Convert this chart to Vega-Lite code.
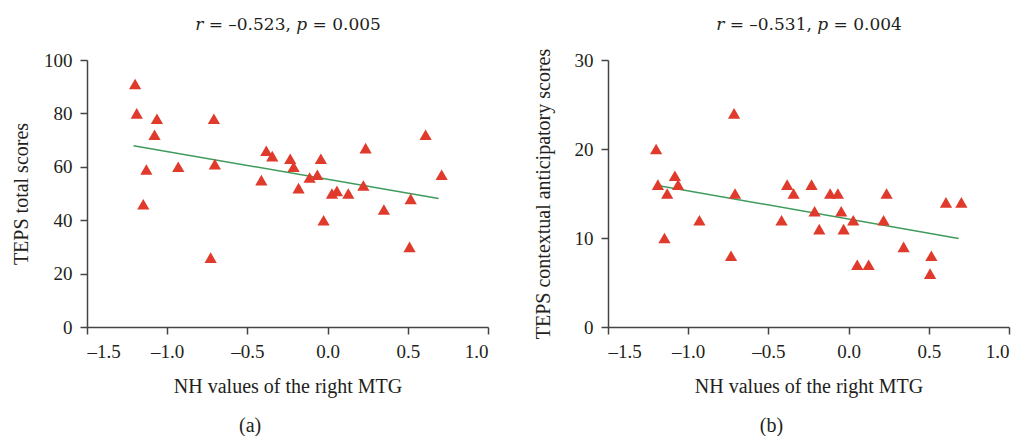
{
  "$schema": "https://vega.github.io/schema/vega-lite/v6.json",
  "padding": {"left": 11, "top": 15, "right": 5, "bottom": 0},
  "background": "white",
  "config": {
    "view": {"stroke": null},
    "font": "Liberation Serif",
    "axis": {"grid": false, "domainColor": "#444444", "domainWidth": 1.5, "tickColor": "#444444", "tickWidth": 1.5, "tickSize": 7, "labelFont": "Liberation Serif", "labelFontSize": 19, "labelColor": "#231f20", "titleFont": "Liberation Serif", "titleFontSize": 20, "titleFontWeight": "normal", "titleColor": "#231f20"},
    "title": {"font": "Liberation Serif", "fontSize": 20, "fontWeight": "normal", "color": "#231f20"},
    "concat": {"spacing": 43}
  },
  "datasets": {
    "a": [
      {"x": -1.20, "y": 91}, {"x": -1.19, "y": 80}, {"x": -1.064, "y": 78}, {"x": -1.079, "y": 72},
      {"x": -0.709, "y": 78}, {"x": -1.13, "y": 59}, {"x": -0.931, "y": 60}, {"x": -0.703, "y": 61},
      {"x": -1.149, "y": 46}, {"x": -0.729, "y": 26}, {"x": -0.382, "y": 66}, {"x": -0.345, "y": 64},
      {"x": -0.413, "y": 55}, {"x": -0.233, "y": 63}, {"x": -0.212, "y": 60}, {"x": -0.042, "y": 63},
      {"x": -0.112, "y": 56}, {"x": -0.064, "y": 57}, {"x": -0.181, "y": 52}, {"x": 0.237, "y": 67},
      {"x": 0.027, "y": 50}, {"x": 0.058, "y": 51}, {"x": 0.129, "y": 50}, {"x": 0.223, "y": 53},
      {"x": -0.025, "y": 40}, {"x": 0.351, "y": 44}, {"x": 0.518, "y": 48}, {"x": 0.511, "y": 30},
      {"x": 0.611, "y": 72}, {"x": 0.711, "y": 57}
    ],
    "b": [
      {"x": -1.200, "y": 20}, {"x": -1.189, "y": 16}, {"x": -1.131, "y": 15}, {"x": -1.083, "y": 17},
      {"x": -1.063, "y": 16}, {"x": -1.148, "y": 10}, {"x": -0.930, "y": 12}, {"x": -0.714, "y": 24},
      {"x": -0.708, "y": 15}, {"x": -0.733, "y": 8}, {"x": -0.418, "y": 12}, {"x": -0.383, "y": 16},
      {"x": -0.343, "y": 15}, {"x": -0.231, "y": 16}, {"x": -0.212, "y": 13}, {"x": -0.183, "y": 11},
      {"x": -0.115, "y": 15}, {"x": -0.067, "y": 15}, {"x": -0.046, "y": 13}, {"x": -0.031, "y": 11},
      {"x": 0.029, "y": 12}, {"x": 0.054, "y": 7}, {"x": 0.125, "y": 7}, {"x": 0.237, "y": 15},
      {"x": 0.218, "y": 12}, {"x": 0.343, "y": 9}, {"x": 0.516, "y": 8}, {"x": 0.508, "y": 6},
      {"x": 0.607, "y": 14}, {"x": 0.703, "y": 14}
    ],
    "a_fit": [{"x": -1.21, "y": 67.9}, {"x": 0.692, "y": 48.1}],
    "b_fit": [{"x": -1.19, "y": 15.9}, {"x": 0.686, "y": 9.95}]
  },
  "hconcat": [
    {
      "title": {"text": "(a)", "orient": "bottom", "anchor": "middle", "offset": 20},
      "vconcat": [
        {
          "width": 401, "height": 267,
          "resolve": {"axis": {"x": "independent"}},
          "layer": [
            {
              "data": {"name": "a_fit"},
              "mark": {"type": "line", "color": "#3f9b5c", "strokeWidth": 1.5},
              "encoding": {
                "x": {"field": "x", "type": "quantitative", "scale": {"domain": [-1.5, 1], "nice": false, "zero": false},
                      "axis": {"title": "NH values of the right MTG", "values": [-1.5, -1, -0.5, 0, 0.5, 1], "format": ".1f", "labelExpr": "replace(datum.label, '−', '–')", "labelPadding": 8, "titlePadding": 15}},
                "y": {"field": "y", "type": "quantitative", "scale": {"domain": [0, 100], "nice": false},
                      "axis": {"title": "TEPS total scores", "values": [0, 20, 40, 60, 80, 100], "labelPadding": 8, "titlePadding": 12}}
              }
            },
            {
              "data": {"name": "a"},
              "mark": {"type": "point", "shape": "triangle-up", "filled": true, "size": 150, "color": "#e03a2c", "opacity": 1},
              "encoding": {
                "x": {"field": "x", "type": "quantitative",
                      "axis": {"orient": "top", "title": "𝑟 = –0.523, 𝑝 = 0.005", "titleFont": "DejaVu Serif", "titleFontSize": 17, "domain": false, "ticks": false, "labels": false, "titlePadding": 27}},
                "y": {"field": "y", "type": "quantitative"}
              }
            }
          ]
        }
      ]
    },
    {
      "title": {"text": "(b)", "orient": "bottom", "anchor": "middle", "offset": 20},
      "vconcat": [
        {
          "width": 401, "height": 267,
          "resolve": {"axis": {"x": "independent"}},
          "layer": [
            {
              "data": {"name": "b_fit"},
              "mark": {"type": "line", "color": "#3f9b5c", "strokeWidth": 1.5},
              "encoding": {
                "x": {"field": "x", "type": "quantitative", "scale": {"domain": [-1.5, 1], "nice": false, "zero": false},
                      "axis": {"title": "NH values of the right MTG", "values": [-1.5, -1, -0.5, 0, 0.5, 1], "format": ".1f", "labelExpr": "replace(datum.label, '−', '–')", "labelPadding": 8, "titlePadding": 15}},
                "y": {"field": "y", "type": "quantitative", "scale": {"domain": [0, 30], "nice": false},
                      "axis": {"title": "TEPS contextual anticipatory scores", "values": [0, 10, 20, 30], "labelPadding": 8, "titlePadding": 21}}
              }
            },
            {
              "data": {"name": "b"},
              "mark": {"type": "point", "shape": "triangle-up", "filled": true, "size": 150, "color": "#e03a2c", "opacity": 1},
              "encoding": {
                "x": {"field": "x", "type": "quantitative",
                      "axis": {"orient": "top", "title": "𝑟 = –0.531, 𝑝 = 0.004", "titleFont": "DejaVu Serif", "titleFontSize": 17, "domain": false, "ticks": false, "labels": false, "titlePadding": 27}},
                "y": {"field": "y", "type": "quantitative"}
              }
            }
          ]
        }
      ]
    }
  ]
}
